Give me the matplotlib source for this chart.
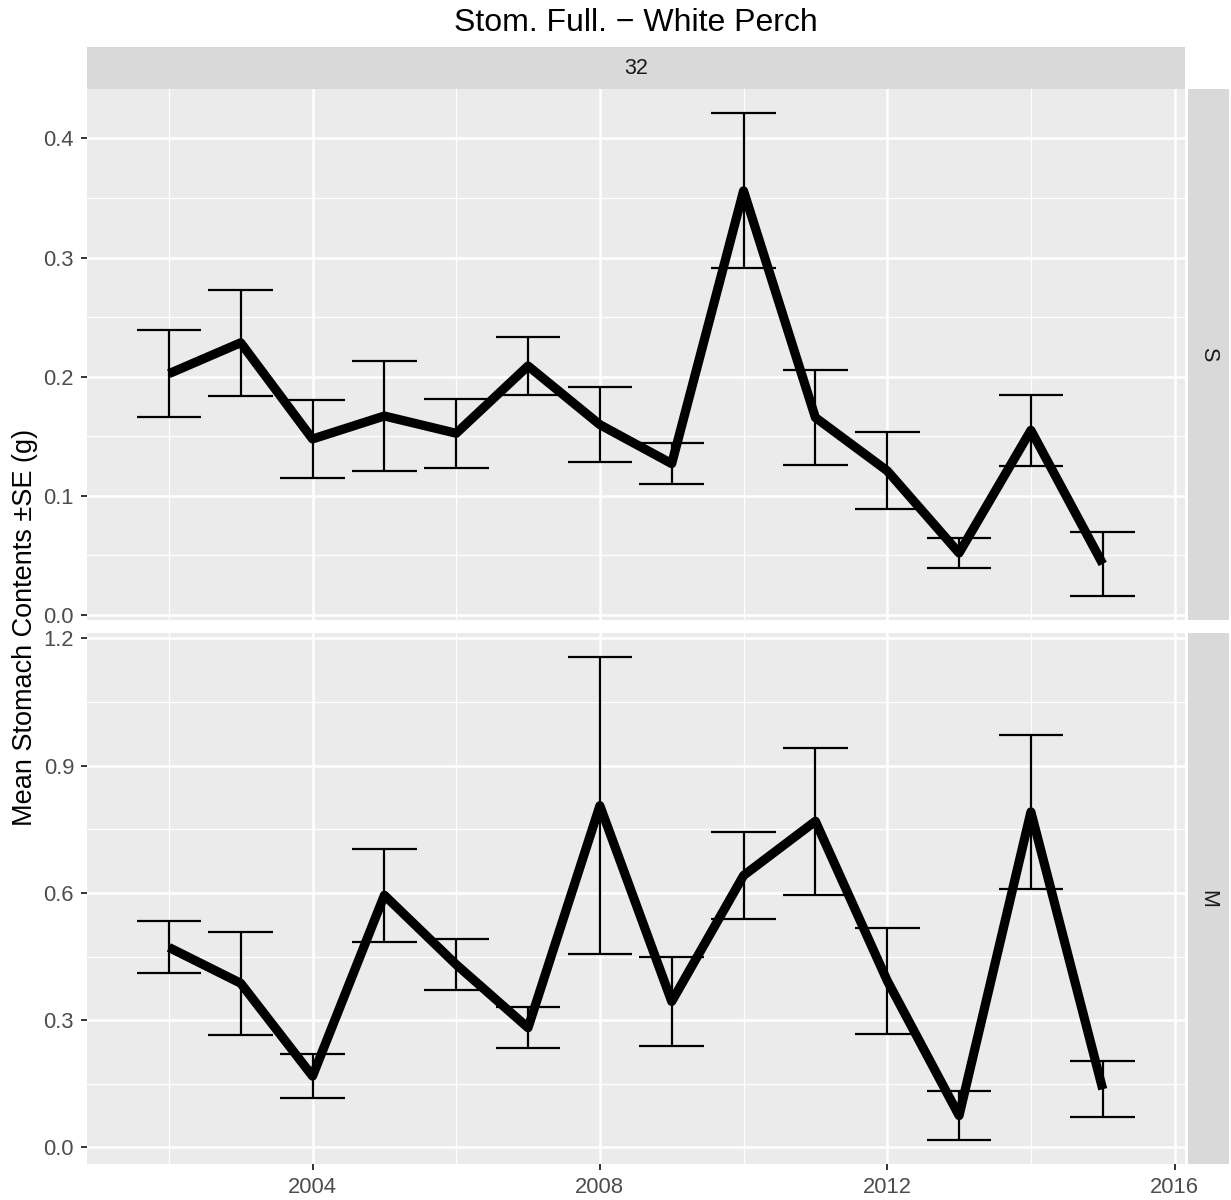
import numpy as np
import matplotlib
matplotlib.use("Agg")
import matplotlib.pyplot as plt

plt.rcParams["font.family"] = ["Liberation Sans", "DejaVu Sans"]

# ---- data -------------------------------------------------------------
years = [2002, 2003, 2004, 2005, 2006, 2007, 2008,
         2009, 2010, 2011, 2012, 2013, 2014, 2015]

# small fish (S)
s_mean = [0.2025, 0.2285, 0.1477, 0.1670, 0.1525, 0.2090, 0.1597,
          0.1270, 0.3560, 0.1657, 0.1210, 0.0520, 0.1550, 0.0428]
s_se = [0.0363, 0.0445, 0.0325, 0.0462, 0.0290, 0.0245, 0.0317,
        0.0172, 0.0650, 0.0400, 0.0323, 0.0126, 0.0297, 0.0268]

# medium fish (M)
m_mean = [0.4715, 0.3870, 0.1680, 0.5945, 0.4310, 0.2820, 0.8056,
          0.3440, 0.6410, 0.7690, 0.3930, 0.0750, 0.7910, 0.1370]
m_se = [0.0615, 0.1217, 0.0527, 0.1100, 0.0610, 0.0480, 0.3496,
        0.1040, 0.1020, 0.1730, 0.1250, 0.0580, 0.1820, 0.0665]

col_label = "32"
row_labels = ["S", "M"]
title = "Stom. Full. \u2212 White Perch"
y_title = "Mean Stomach Contents \u00b1SE (g)"
x_ticks = [2004, 2008, 2012, 2016]
x_minor = [2002, 2006, 2010, 2014]
s_ticks = [0.0, 0.1, 0.2, 0.3, 0.4]
m_ticks = [0.0, 0.3, 0.6, 0.9, 1.2]

# ---- layout -----------------------------------------------------------
W, H = 1231, 1200
fig = plt.figure(figsize=(W / 100, H / 100), dpi=100)


def box(x0, y0, x1, y1):
    return [x0 / W, 1 - y1 / H, (x1 - x0) / W, (y1 - y0) / H]


PL, PR = 86.6, 1185.0
ax_s = fig.add_axes(box(PL, 89.3, PR, 620.0))
ax_m = fig.add_axes(box(PL, 633.3, PR, 1164.3))

ERR_W = 0.9
yrs = np.array(years, dtype=float)
xlo = yrs.min() - ERR_W / 2
xhi = yrs.max() + ERR_W / 2
xpad = 0.05 * (xhi - xlo)

panel_bg = "#EBEBEB"
strip_bg = "#D9D9D9"


def draw_panel(ax, mean, se, yticks, show_x):
    mean = np.array(mean)
    se = np.array(se)
    lo, hi = mean - se, mean + se
    ax.set_facecolor(panel_bg)
    for sp in ax.spines.values():
        sp.set_visible(False)
    ax.set_axisbelow(True)

    ax.set_xlim(xlo - xpad, xhi + xpad)
    ypad = 0.05 * (hi.max() - lo.min())
    ax.set_ylim(lo.min() - ypad, hi.max() + ypad)

    step = yticks[1] - yticks[0]
    yminor = [t + step / 2 for t in yticks[:-1]]
    ax.set_xticks(x_ticks)
    ax.set_xticks(x_minor, minor=True)
    ax.set_yticks(yticks)
    ax.set_yticks(yminor, minor=True)
    ax.set_yticklabels([f"{t:.1f}" for t in yticks])
    ax.set_xticklabels([str(t) for t in x_ticks])

    ax.grid(which="major", color="white", linewidth=1.8)
    ax.grid(which="minor", color="white", linewidth=0.9)

    ax.tick_params(which="major", length=4.5, width=1.4, color="#333333",
                   labelcolor="#4D4D4D", labelsize=15.8, pad=4.5)
    ax.tick_params(which="minor", length=0)
    if not show_x:
        ax.tick_params(axis="x", which="both", bottom=False, labelbottom=False)

    ax.vlines(yrs, lo, hi, color="black", linewidth=1.6)
    ax.hlines(lo, yrs - ERR_W / 2, yrs + ERR_W / 2, color="black", linewidth=1.6)
    ax.hlines(hi, yrs - ERR_W / 2, yrs + ERR_W / 2, color="black", linewidth=1.6)
    ax.plot(yrs, mean, color="black", linewidth=6.6,
            solid_joinstyle="round", solid_capstyle="butt")


draw_panel(ax_s, s_mean, s_se, s_ticks, show_x=False)
draw_panel(ax_m, m_mean, m_se, m_ticks, show_x=True)

# ---- strips -----------------------------------------------------------
def strip(rect, text, rotation):
    sa = fig.add_axes(rect)
    sa.set_facecolor(strip_bg)
    sa.set_xticks([])
    sa.set_yticks([])
    for sp in sa.spines.values():
        sp.set_visible(False)
    sa.text(0.5, 0.5, text, rotation=rotation, ha="center", va="center",
            color="#1A1A1A", fontsize=15.5, transform=sa.transAxes)


strip(box(PL, 46.7, PR, 89.3), col_label, 0)
strip(box(1187.5, 89.3, 1229.0, 620.0), row_labels[0], -90)
strip(box(1187.5, 633.3, 1229.0, 1164.3), row_labels[1], -90)

# ---- titles -----------------------------------------------------------
fig.text((PL + PR) / 2 / W, 1 - 31 / H, title, ha="center", va="baseline",
         fontsize=23, color="black")
fig.text(25 / W, 1 - 627 / H, y_title, rotation=90, ha="center",
         va="center", fontsize=19.5, color="black")

fig.savefig("out.png", dpi=100, facecolor="white")
